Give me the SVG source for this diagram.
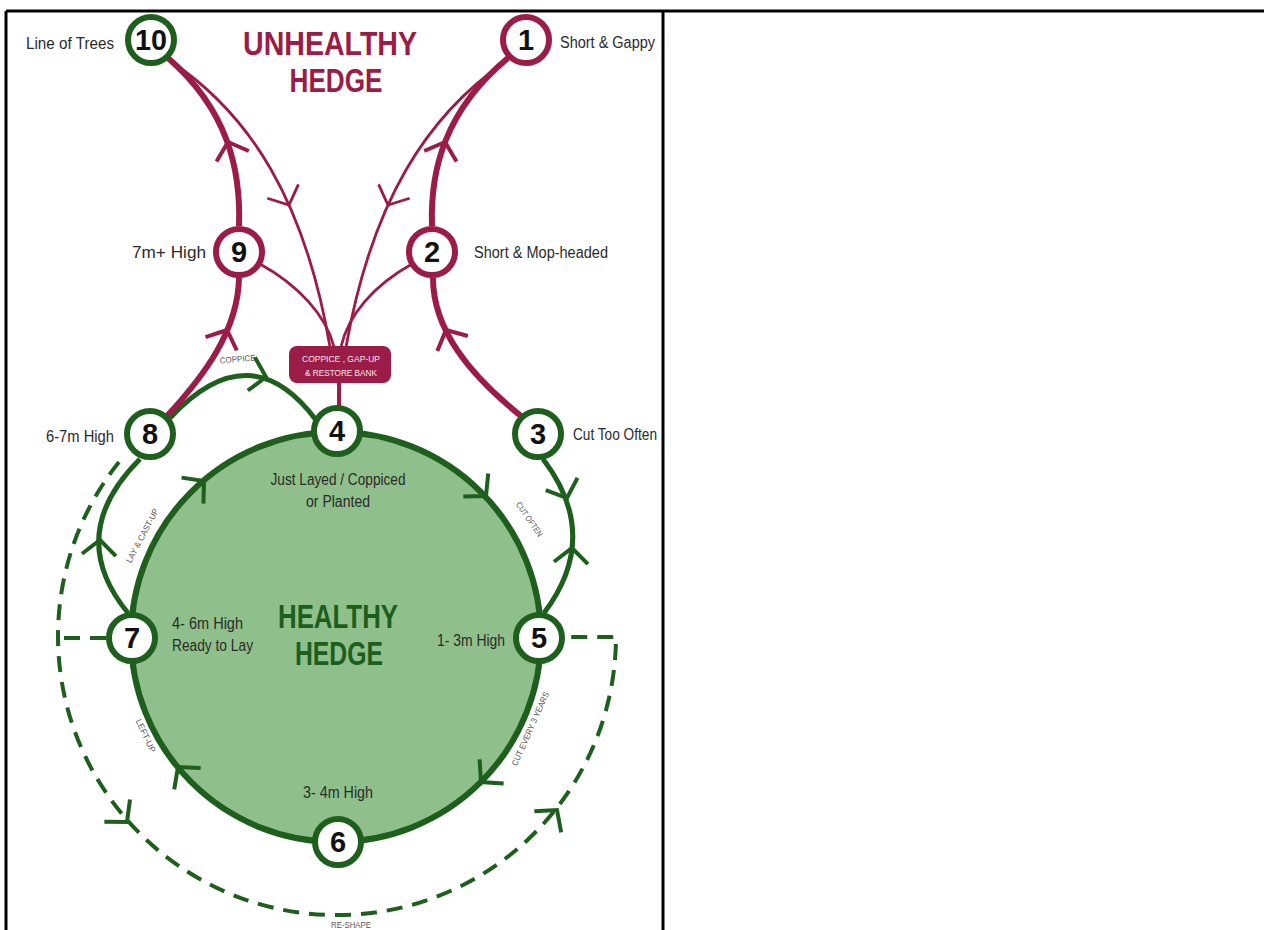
<svg xmlns="http://www.w3.org/2000/svg" width="1264" height="930" viewBox="0 0 1264 930">
  <style>
    .frame { stroke: #000; stroke-width: 3; fill: none; }
    .lbl { font-family: "Liberation Sans Narrow", "Liberation Sans", Arial, sans-serif; font-size: 16px; fill: #2a2a2a; }
    .small { font-family: "Liberation Sans Narrow", "Liberation Sans", Arial, sans-serif; font-size: 8.5px; fill: #555; }
    .boxtxt { font-family: "Liberation Sans Narrow", "Liberation Sans", Arial, sans-serif; font-size: 9px; fill: #fbe9ef; text-anchor: middle; }
    .num { font-family: "Liberation Sans", Arial, sans-serif; font-weight: bold; font-size: 29px; fill: #111; text-anchor: middle; }
    .title { font-family: "Liberation Sans Narrow", "Liberation Sans", Arial, sans-serif; font-weight: bold; font-size: 34px; text-anchor: middle; }
    .t-bad { fill: #9b1c47; }
    .t-good { fill: #1c5e1c; }
    .node circle { fill: #fff; stroke-width: 6; }
    .ng circle { stroke: #1e5f1e; }
    .nm circle { stroke: #9b1c47; }
    .gline { fill: none; stroke: #1e5f1e; stroke-width: 5; }
    .mline { fill: none; stroke: #9b1c47; stroke-width: 6; }
    .mthin { fill: none; stroke: #9b1c47; stroke-width: 2.8; }
    .dash { fill: none; stroke: #1e5f1e; stroke-width: 4; stroke-dasharray: 16 10; }
    .ag { fill: none; stroke: #1e5f1e; stroke-width: 4; }
    .am { fill: none; stroke: #9b1c47; stroke-width: 4; }
    .amt { fill: none; stroke: #9b1c47; stroke-width: 2.8; }
  </style>
  <defs>
    <!-- open chevron arrowhead, tip at origin, pointing along +x -->
    <path id="chev" d="M-15,-17 L0,0 L-15,17"/>
  </defs>

  <!-- table frame -->
  <g id="frame">
    <path class="frame" d="M6,11 H1264 M6,11 V930 M663,11 V930"/>
  </g>

  <!-- healthy hedge area -->
  <g id="healthy-area">
    <circle cx="336" cy="637" r="205" fill="#8fc08b" stroke="#1e5f1e" stroke-width="6"/>
    <text class="title t-good" x="338" y="628" textLength="120" lengthAdjust="spacingAndGlyphs">HEALTHY</text>
    <text class="title t-good" x="339" y="665" textLength="88" lengthAdjust="spacingAndGlyphs">HEDGE</text>
  </g>

  <g id="unhealthy-title">
    <text class="title t-bad" x="330" y="55" textLength="174" lengthAdjust="spacingAndGlyphs">UNHEALTHY</text>
    <text class="title t-bad" x="336" y="92" textLength="93" lengthAdjust="spacingAndGlyphs">HEDGE</text>
  </g>

  <!-- connectors -->
  <g id="connectors">
    <!-- outer dashed re-shape loop -->
    <path class="dash" d="M119,462 A279,279 0 1,0 616,637 H563"/>
    <path class="dash" d="M106,638 H58"/>
    <use href="#chev" class="ag" transform="translate(127,822) rotate(49)"/>
    <use href="#chev" class="ag" transform="translate(557,810) rotate(-52)"/>

    <!-- healthy cycle arrows on the circle -->
    <use href="#chev" class="ag" transform="translate(486,496) rotate(47)"/>
    <use href="#chev" class="ag" transform="translate(481,782) rotate(135)"/>
    <use href="#chev" class="ag" transform="translate(178,767) rotate(231)"/>
    <use href="#chev" class="ag" transform="translate(204,481) rotate(-40)"/>

    <!-- 7 to 8 -->
    <path class="gline" d="M128,613 Q64,535 140,459"/>
    <use href="#chev" class="ag" transform="translate(100,540) rotate(-86)"/>
    <!-- 8 to 4 -->
    <path class="gline" d="M170,418 Q250,332 316,420"/>
    <use href="#chev" class="ag" transform="translate(266,377) rotate(12)"/>
    <!-- 3 and 5 -->
    <path class="gline" d="M543,459 Q602,536 544,613"/>
    <use href="#chev" class="ag" transform="translate(567,498) rotate(69)"/>
    <use href="#chev" class="ag" transform="translate(572,548) rotate(-86)"/>

    <!-- unhealthy paths -->
    <path class="mline" d="M167,416 C205,375 238,330 239,278"/>
    <use href="#chev" class="am" transform="translate(227,330) rotate(-67)"/>
    <path class="mline" d="M239,226 C241,170 228,110 168,58"/>
    <use href="#chev" class="am" transform="translate(228,142) rotate(-108)"/>
    <path class="mline" d="M521,416 C470,375 433,330 433,278"/>
    <use href="#chev" class="am" transform="translate(446,330) rotate(-116)"/>
    <path class="mline" d="M432,226 C430,170 445,110 508,58"/>
    <use href="#chev" class="am" transform="translate(445,142) rotate(-72)"/>

    <!-- back to coppice / gap-up -->
    <path class="mthin" d="M172,62 C250,115 305,200 330,347"/>
    <use href="#chev" class="amt" transform="translate(289,205) rotate(66)"/>
    <path class="mthin" d="M505,62 C428,115 372,200 346,347"/>
    <use href="#chev" class="amt" transform="translate(388,205) rotate(114)"/>
    <path class="mthin" d="M260,264 C298,285 326,315 334,347"/>
    <path class="mthin" d="M412,264 C374,285 348,315 341,347"/>
    <path class="mline" style="stroke-width:4" d="M339,382 V406"/>

    <!-- transition labels -->
    <text class="small" x="238" y="362" text-anchor="middle" transform="rotate(-5 238 362)" textLength="36" lengthAdjust="spacingAndGlyphs">COPPICE</text>
    <text class="small" x="145" y="537" text-anchor="middle" transform="rotate(-62 145 537)" textLength="60" lengthAdjust="spacingAndGlyphs">LAY &amp; CAST-UP</text>
    <text class="small" x="527" y="521" text-anchor="middle" transform="rotate(55 527 521)" textLength="40" lengthAdjust="spacingAndGlyphs">CUT OFTEN</text>
    <text class="small" x="533" y="730" text-anchor="middle" transform="rotate(-66 533 730)" textLength="80" lengthAdjust="spacingAndGlyphs">CUT EVERY 3 YEARS</text>
    <text class="small" x="143" y="737" text-anchor="middle" transform="rotate(65 143 737)" textLength="36" lengthAdjust="spacingAndGlyphs">LEFT-UP</text>
    <text class="small" x="351" y="928" text-anchor="middle" textLength="40" lengthAdjust="spacingAndGlyphs">RE-SHAPE</text>
  </g>

  <!-- action box -->
  <g id="box-coppice">
    <rect x="289" y="346" width="102" height="37" rx="8" fill="#9b1c47"/>
    <text class="boxtxt" x="341" y="362" textLength="78" lengthAdjust="spacingAndGlyphs">COPPICE , GAP-UP</text>
    <text class="boxtxt" x="341" y="376" textLength="72" lengthAdjust="spacingAndGlyphs">&amp; RESTORE BANK</text>
  </g>

  <!-- nodes -->
  <g id="node-10" class="node ng">
    <circle cx="151" cy="40" r="23"/>
    <text class="num" x="151" y="50" textLength="32" lengthAdjust="spacingAndGlyphs">10</text>
    <text class="lbl" x="114" y="49" text-anchor="end" textLength="88" lengthAdjust="spacingAndGlyphs">Line of Trees</text>
  </g>
  <g id="node-1" class="node nm">
    <circle cx="526" cy="40" r="23"/>
    <text class="num" x="526" y="50">1</text>
    <text class="lbl" x="560" y="48" textLength="95" lengthAdjust="spacingAndGlyphs">Short &amp; Gappy</text>
  </g>
  <g id="node-9" class="node nm">
    <circle cx="239" cy="252" r="23"/>
    <text class="num" x="239" y="262">9</text>
    <text class="lbl" x="206" y="258" text-anchor="end" textLength="74" lengthAdjust="spacingAndGlyphs">7m+ High</text>
  </g>
  <g id="node-2" class="node nm">
    <circle cx="432" cy="252" r="23"/>
    <text class="num" x="432" y="262">2</text>
    <text class="lbl" x="474" y="258" textLength="134" lengthAdjust="spacingAndGlyphs">Short &amp; Mop-headed</text>
  </g>
  <g id="node-8" class="node ng">
    <circle cx="150" cy="434" r="23"/>
    <text class="num" x="150" y="444">8</text>
    <text class="lbl" x="114" y="442" text-anchor="end" textLength="68" lengthAdjust="spacingAndGlyphs">6-7m High</text>
  </g>
  <g id="node-4" class="node ng">
    <circle cx="337" cy="431" r="23"/>
    <text class="num" x="337" y="441">4</text>
    <text class="lbl" x="338" y="485" text-anchor="middle" textLength="135" lengthAdjust="spacingAndGlyphs">Just Layed / Coppiced</text>
    <text class="lbl" x="338" y="507" text-anchor="middle" textLength="64" lengthAdjust="spacingAndGlyphs">or Planted</text>
  </g>
  <g id="node-3" class="node ng">
    <circle cx="538" cy="434" r="23"/>
    <text class="num" x="538" y="444">3</text>
    <text class="lbl" x="573" y="440" textLength="84" lengthAdjust="spacingAndGlyphs">Cut Too Often</text>
  </g>
  <g id="node-7" class="node ng">
    <circle cx="132" cy="638" r="23"/>
    <text class="num" x="132" y="648">7</text>
    <text class="lbl" x="172" y="629" textLength="71" lengthAdjust="spacingAndGlyphs">4- 6m High</text>
    <text class="lbl" x="172" y="651" textLength="81" lengthAdjust="spacingAndGlyphs">Ready to Lay</text>
  </g>
  <g id="node-5" class="node ng">
    <circle cx="539" cy="638" r="23"/>
    <text class="num" x="539" y="648">5</text>
    <text class="lbl" x="505" y="646" text-anchor="end" textLength="68" lengthAdjust="spacingAndGlyphs">1- 3m High</text>
  </g>
  <g id="node-6" class="node ng">
    <circle cx="338" cy="842" r="23"/>
    <text class="num" x="338" y="852">6</text>
    <text class="lbl" x="338" y="798" text-anchor="middle" textLength="70" lengthAdjust="spacingAndGlyphs">3- 4m High</text>
  </g>
</svg>
